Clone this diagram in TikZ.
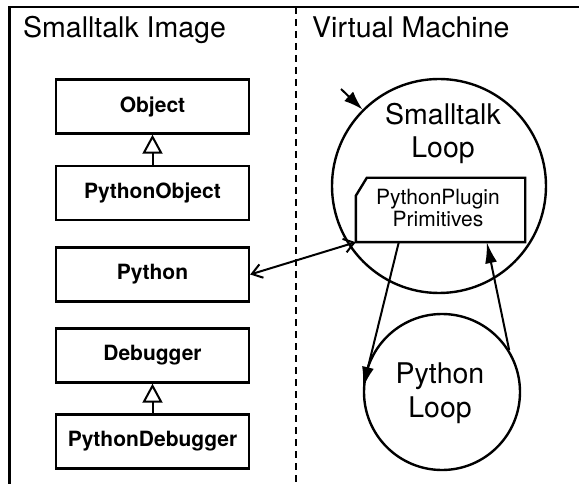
\documentclass[tikz,border=0pt]{standalone}
\usepackage{fontspec}
\setmainfont{TeX Gyre Heros}
\usetikzlibrary{arrows.meta}
\begin{document}
\begin{tikzpicture}[x=1pt,y=-1pt,
  frame/.style={line width=2.2pt},
  cls/.style={draw,line width=2.4pt,minimum width=193pt,minimum height=54pt,inner sep=0pt,font=\fontsize{21}{25}\selectfont\bfseries},
  loopc/.style={draw,circle,line width=2.4pt,inner sep=0pt},
  big/.style={font=\fontsize{28.5}{33}\selectfont,inner sep=0pt,anchor=base},
  small/.style={font=\fontsize{21}{22}\selectfont,inner sep=0pt,anchor=base},
  inh/.style={-{Triangle[open,length=19pt,width=20pt,line width=2pt]},line width=2pt,fill=white},
  flow/.style={-{Latex[length=21pt,width=12pt]},line width=2pt},
  call/.style={{Straight Barb[length=10pt,width=14pt,line width=2pt]}-{Straight Barb[length=10pt,width=14pt,line width=2pt]},line width=2pt}
]
\useasboundingbox (0,0) rectangle (579,484);
% frame and divider
\draw[frame] (579,7) -- (9.5,7) -- (9.5,484);
\draw[frame,dash pattern=on 7pt off 5pt] (296,7) -- (296,484);
\node[big,anchor=base west] (t1) at (23,37.7) {Smalltalk Image};
\node[big,anchor=base west] (t2) at (312,37.7) {Virtual Machine};
% classes
\node[cls] (obj) at (152.5,106.5) {Object};
\node[cls] (pyobj) at (152.5,193) {PythonObject};
\node[cls] (py) at (152.5,274.5) {Python};
\node[cls] (dbg) at (152.5,355.5) {Debugger};
\node[cls] (pydbg) at (152.5,441.5) {PythonDebugger};
\draw[inh] (pyobj.north) -- (obj.south);
\draw[inh] (pydbg.north) -- (dbg.south);
% loops
\node[loopc,minimum size=214pt] (sl) at (439,186) {};
\node[big] (slt1) at (443,125) {Smalltalk};
\node[big] (slt2) at (443,158) {Loop};
\node[loopc,minimum size=156pt] (pl) at (442,392) {};
\node[big] (plt1) at (440,383) {Python};
\node[big] (plt2) at (440,417) {Loop};
% plugin primitives
\node[minimum width=169pt,minimum height=64pt,inner sep=0pt] (pp) at (440.5,210) {};
\draw[line width=2.4pt] (pp.south west) -- (pp.south east) -- (pp.north east)
  -- ([xshift=11pt]pp.north west) -- ([yshift=-18pt]pp.north west) -- cycle;
\node[small] (ppt1) at (438,205) {PythonPlugin};
\node[small] (ppt2) at (438,227) {Primitives};
% connectors
\coordinate (e0) at (341,89);
\draw[-{Latex[length=19pt,width=13pt]},line width=2pt] (e0) -- (sl.135);
\draw[call] (py.east) -- (pp.south west);
\draw[flow] ([xshift=43pt]pp.south west) -- (pl.177);
\draw[flow] (pl.32) -- ([xshift=131pt]pp.south west);
\end{tikzpicture}
\end{document}
